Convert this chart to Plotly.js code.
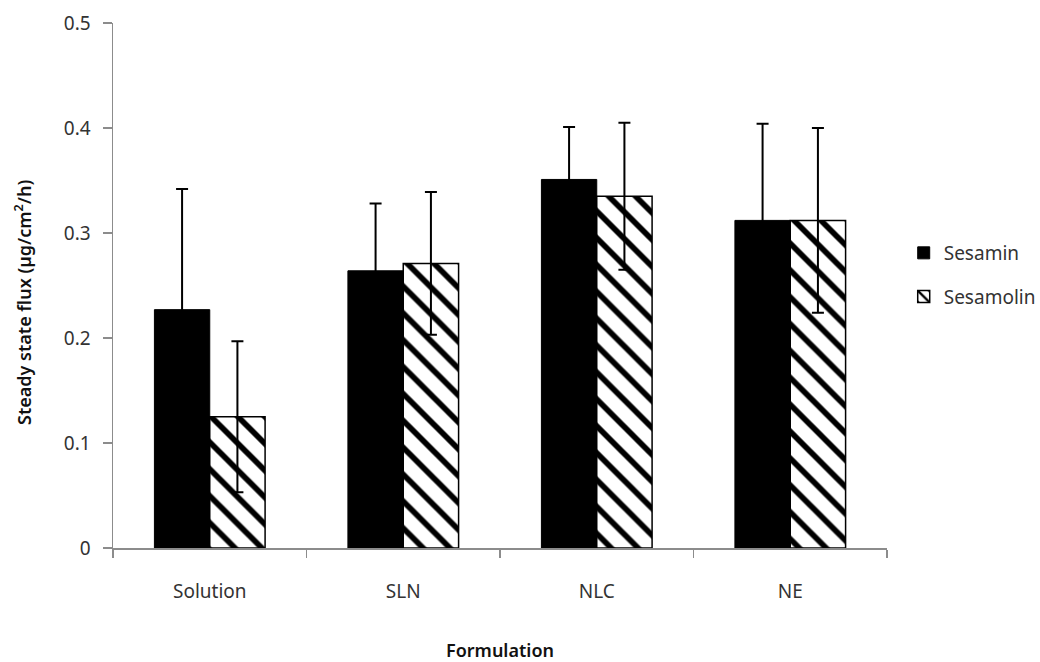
<!DOCTYPE html>
<html>
<head>
<meta charset="utf-8">
<script src="https://cdn.plot.ly/plotly-3.0.1.min.js"></script>
<style>html,body{margin:0;padding:0;background:#fff;}#chart{width:1040px;height:662px;}</style>
</head>
<body>
<div id="chart"></div>
<script>
const categories = ["Solution", "SLN", "NLC", "NE"];
const sesaminValues = [0.227, 0.264, 0.351, 0.312];
const sesaminErrors = [0.115, 0.064, 0.050, 0.092];
const sesamolinValues = [0.125, 0.271, 0.335, 0.312];
const sesamolinErrors = [0.072, 0.068, 0.070, 0.088];
const yTickValues = [0, 0.1, 0.2, 0.3, 0.4, 0.5];
const yTickLabels = ["0", "0.1", "0.2", "0.3", "0.4", "0.5"];
const xTitle = "Formulation";
const yTitle = "Steady state flux (µg/cm<sup>2</sup>/h)";

const font = "Noto Sans, Open Sans, DejaVu Sans, sans-serif";
const tickFont = {family: font, size: 19, color: "#333333"};
const titleFont = {family: font, size: 18, color: "#111111", weight: 600};

const traces = [
  {
    type: "bar", name: "Sesamin", x: categories, y: sesaminValues,
    marker: {color: "#000000", line: {color: "#000000", width: 1}},
    error_y: {type: "data", array: sesaminErrors, visible: true, color: "#000000", thickness: 2, width: 6},
    legendgroup: "a"
  },
  {
    type: "bar", name: "Sesamolin", x: categories, y: sesamolinValues,
    marker: {color: "#ffffff", line: {color: "#000000", width: 1.5},
             pattern: {shape: "\\", fgcolor: "#000000", bgcolor: "#ffffff", size: 19, solidity: 0.3}},
    error_y: {type: "data", array: sesamolinErrors, visible: true, color: "#000000", thickness: 2, width: 6},
    legendgroup: "b"
  }
];

const layout = {
  width: 1040, height: 662,
  margin: {l: 113, r: 153, t: 23, b: 114, autoexpand: false},
  paper_bgcolor: "#ffffff", plot_bgcolor: "#ffffff",
  font: {family: font, size: 19, color: "#333333"},
  barmode: "group", bargap: 0.428, bargroupgap: 0,
  showlegend: true,
  legend: {x: 1.0216, y: 0.52, xanchor: "left", yanchor: "middle", traceorder: "grouped", tracegroupgap: 16,
           font: {family: font, size: 19, color: "#333333"}, itemwidth: 30},
  xaxis: {
    type: "category", showline: true, linecolor: "#8c8c8c", linewidth: 1.5,
    ticks: "outside", tickson: "boundaries", ticklen: 8, tickcolor: "#8c8c8c", tickwidth: 1.5,
    showgrid: false, zeroline: false, ticklabelstandoff: 26,
    tickfont: tickFont,
    title: {text: xTitle, font: titleFont, standoff: 42}
  },
  yaxis: {
    range: [0, 0.5], tickvals: yTickValues, ticktext: yTickLabels,
    showline: true, linecolor: "#8c8c8c", linewidth: 1.5,
    ticks: "outside", ticklen: 9, tickcolor: "#8c8c8c", tickwidth: 1.5,
    showgrid: false, zeroline: false, ticklabelstandoff: 8,
    tickfont: tickFont
  },
  annotations: [
    {text: yTitle, xref: "paper", yref: "paper", x: -0.1163, y: 0.4686, xanchor: "center", yanchor: "middle",
     textangle: -90, showarrow: false, font: titleFont}
  ]
};

Plotly.newPlot("chart", traces, layout, {displayModeBar: false, staticPlot: true});
</script>
</body>
</html>
